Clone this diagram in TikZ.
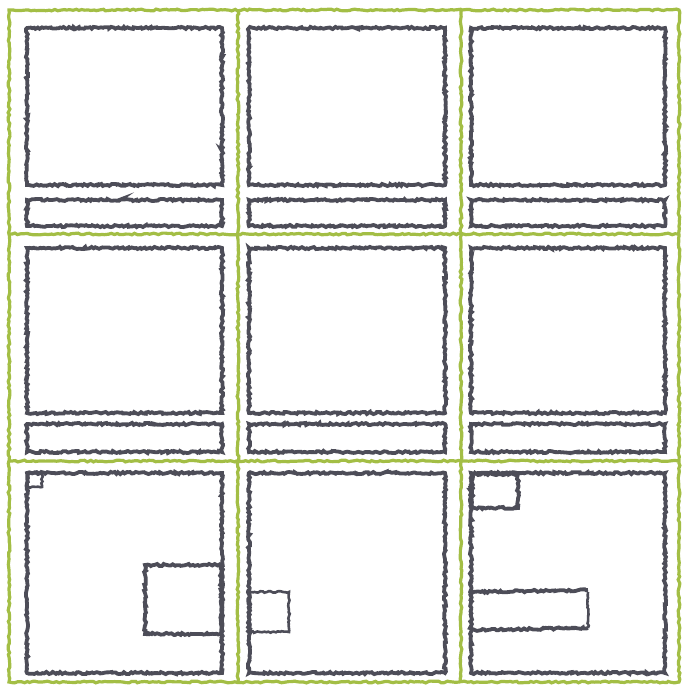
\documentclass[tikz,border=0pt]{standalone}
\usetikzlibrary{decorations.pathmorphing}
\definecolor{sketchgreen}{HTML}{A3BE45}
\definecolor{sketchdark}{HTML}{4D4D58}
\tikzset{
  frameline/.style={draw=sketchgreen, line width=3.2pt, decorate, decoration={random steps, segment length=3pt, amplitude=0.9pt}},
  boxline/.style={draw=sketchdark, line width=3.8pt, decorate, decoration={random steps, segment length=2pt, amplitude=1.1pt}},
  thinbox/.style={draw=sketchdark, line width=2.6pt, decorate, decoration={random steps, segment length=2pt, amplitude=0.8pt}},
}
\begin{document}
\begin{tikzpicture}[x=1pt,y=-1pt]
\pgfmathsetseed{7}
\fill[white] (0,0) rectangle (685,690);
\useasboundingbox (0,0) rectangle (685,690);
% green frame and grid
\draw[frameline] (9,10) rectangle (679,682);
\draw[frameline] (238,10) -- (238,682);
\draw[frameline] (461,10) -- (461,682);
\draw[frameline] (9,234) -- (679,234);
\draw[frameline] (9,461) -- (679,461);
% rows 1 and 2: main box + strip
\foreach \xa/\xb in {27/222, 249/445, 471/665}{
  \draw[boxline] (\xa,28) rectangle (\xb,185);
  \draw[boxline] (\xa,200) rectangle (\xb,226);
  \draw[boxline] (\xa,248) rectangle (\xb,413);
  \draw[boxline] (\xa,424) rectangle (\xb,452);
}
% row 3
\draw[boxline] (27,473) rectangle (222,673);
\draw[boxline] (249,473) rectangle (445,673);
\draw[boxline] (471,473) rectangle (665,673);
% row 3 inner boxes
\draw[thinbox] (28,474) rectangle (42,487);
\draw[boxline] (145,565) rectangle (221,634);
\draw[thinbox] (250,592) rectangle (289,632);
\draw[boxline] (472,474) rectangle (518,508);
\draw[boxline] (472,592) -- (588,590);
\draw[thinbox] (588,592) -- (588,628);
\draw[boxline] (472,630) -- (588,628);
\end{tikzpicture}
\end{document}
